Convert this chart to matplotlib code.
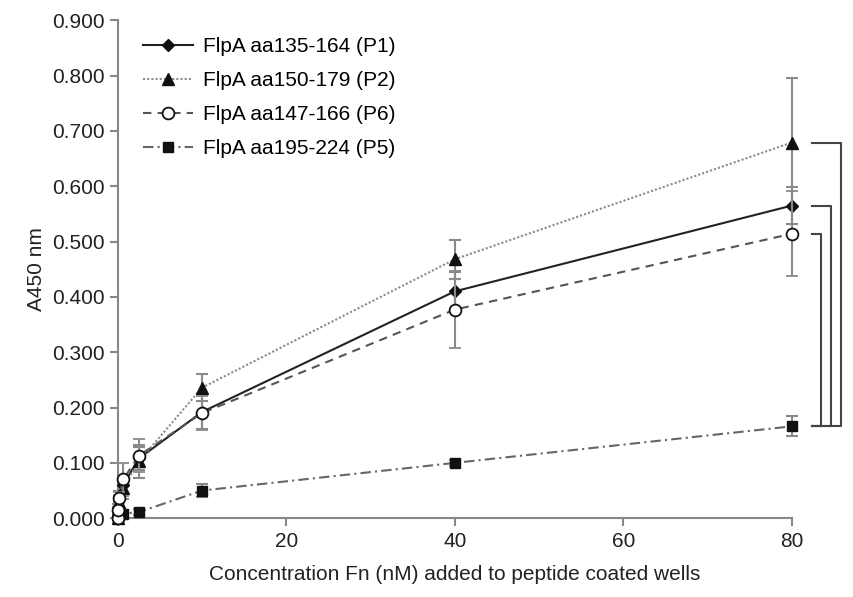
import numpy as np
import matplotlib
matplotlib.use('Agg')
import matplotlib.pyplot as plt
from matplotlib.lines import Line2D
from matplotlib.ticker import FormatStrFormatter

plt.rcParams['font.family'] = ['Liberation Sans', 'DejaVu Sans']

# --- data ---
conc = [0, 0.04, 0.16, 0.63, 2.5, 10, 40, 80]

p1 = [0.000, 0.020, 0.040, 0.060, 0.108, 0.192, 0.410, 0.565]
p1_err = [0.0, 0.005, 0.010, 0.015, 0.020, 0.030, 0.035, 0.033]

p2 = [0.000, 0.015, 0.030, 0.055, 0.103, 0.236, 0.468, 0.679]
p2_err = [0.0, 0.005, 0.010, 0.020, 0.030, 0.025, 0.035, 0.117]

p6 = [0.000, 0.015, 0.037, 0.070, 0.113, 0.190, 0.377, 0.514]
p6_err = [0.0, 0.005, 0.010, 0.030, 0.030, 0.030, 0.070, 0.077]

p5 = [0.000, 0.005, 0.006, 0.008, 0.011, 0.050, 0.100, 0.166]
p5_err = [0.0, 0.0, 0.0, 0.003, 0.005, 0.012, 0.006, 0.018]

labels = ['FlpA aa135-164 (P1)', 'FlpA aa150-179 (P2)',
          'FlpA aa147-166 (P6)', 'FlpA aa195-224 (P5)']

fig = plt.figure(figsize=(8.54, 5.97), dpi=100)
ax = fig.add_axes([0.138, 0.132, 0.789, 0.834])

err_kw = dict(ecolor='#8a8a8a', elinewidth=1.5, capsize=4, capthick=1.5, clip_on=False)

styles = [
    dict(color='#222222', ls='-', marker='D', ms=6.5, mfc='#111111', mec='#111111', zorder=3),
    dict(color='#8a8a8a', ls=(0, (1, 1)), marker='^', ms=8.5, mfc='#111111', mec='#111111', zorder=3),
    dict(color='#555555', ls=(0, (4, 3)), marker='o', ms=8.5, mfc='white', mec='#111111', mew=1.3, zorder=4),
    dict(color='#666666', ls=(0, (5, 2, 1, 2)), marker='s', ms=7.5, mfc='#111111', mec='#111111', zorder=3),
]

handles = []
for y, e, st, lab in zip([p1, p2, p6, p5], [p1_err, p2_err, p6_err, p5_err], styles, labels):
    ax.errorbar(conc, y, yerr=e, lw=1.5, **st, **err_kw)
    h_st = {k: v for k, v in st.items() if k != 'zorder'}
    handles.append(Line2D([], [], lw=1.5, label=lab, **h_st))

# significance brackets to the right of the last points
x0 = 82.4
bot = p5[-1]
for top, xv in [(p2[-1], 85.9), (p1[-1], 84.7), (p6[-1], 83.5)]:
    ax.plot([x0, xv, xv, x0], [top, top, bot, bot], color='#444444', lw=1.5, clip_on=False)

ax.set_xlim(0, 80)
ax.set_ylim(0, 0.9)
ax.set_xticks([0, 20, 40, 60, 80])
ax.set_yticks(np.arange(0, 0.91, 0.1))
ax.yaxis.set_major_formatter(FormatStrFormatter('%.3f'))

for s in ['top', 'right']:
    ax.spines[s].set_visible(False)
for s in ['left', 'bottom']:
    ax.spines[s].set_color('#888888')
    ax.spines[s].set_linewidth(1.5)
ax.tick_params(colors='#888888', width=1.5, length=6, labelcolor='#222222', labelsize=15)
ax.tick_params(axis='x', pad=4)

ax.set_xlabel('Concentration Fn (nM) added to peptide coated wells', fontsize=15,
              color='#222222', labelpad=10)
ax.set_ylabel('A450 nm', fontsize=15, color='#222222', labelpad=4)

ax.legend(handles=handles, loc='upper left', bbox_to_anchor=(0.012, 1.0), frameon=False,
          fontsize=15, handlelength=2.4, handletextpad=0.5, labelspacing=0.72,
          borderaxespad=0.4)

fig.savefig('out.png', dpi=100)
